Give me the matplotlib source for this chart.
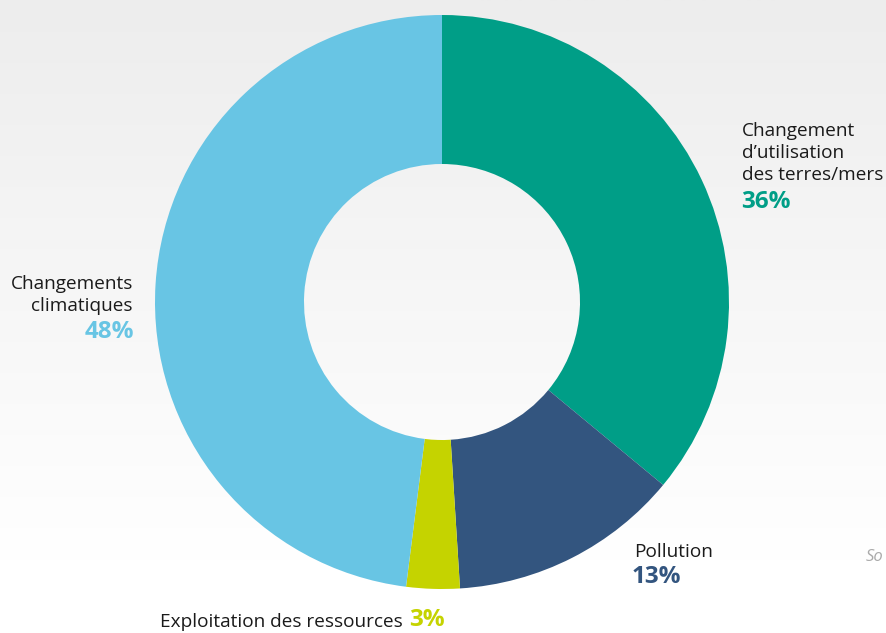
import numpy as np
import matplotlib
matplotlib.use('Agg')
import matplotlib.pyplot as plt

# donut data, clockwise from the top
categories = ["Changement\nd\u2019utilisation\ndes terres/mers", "Pollution",
              "Exploitation des ressources", "Changements\nclimatiques"]
shares = [36, 13, 3, 48]
colors = ["#009e87", "#33557f", "#c5d300", "#68c5e4"]

plt.rcParams['font.family'] = ['Open Sans', 'DejaVu Sans']

W, H = 886, 633
fig = plt.figure(figsize=(W / 100, H / 100), dpi=100)
ax = fig.add_axes([0, 0, 1, 1])

# soft grey to white background
grad = np.linspace(0, 1, 300).reshape(-1, 1)
grad = np.clip(grad * 633 / 560, 0, 1)
bg = 237 + (255 - 237) * grad
img = np.dstack([bg, bg, bg]) / 255
ax.imshow(img, extent=[0, W, 0, H], origin='upper', aspect='auto', zorder=0)

cx, cy = 442, H - 302
ax.pie(shares, colors=colors, startangle=90, counterclock=False,
       center=(cx, cy), radius=287, frame=True,
       wedgeprops=dict(width=149, edgecolor='none'))
ax.set_xlim(0, W)
ax.set_ylim(0, H)
ax.set_aspect('auto')
ax.axis('off')

fs = 13.7
pfs = 17.5
txt = '#1a1a1a'

# labels
ax.text(742, H - 122, categories[0], ha='left', va='top', fontsize=fs,
        color=txt, linespacing=1.27)
ax.text(741, H - 202, f"{shares[0]}%", ha='left', va='center', fontsize=pfs,
        fontweight='bold', color=colors[0])

ax.text(133, H - 275, categories[3], ha='right', va='top', fontsize=fs,
        color=txt, linespacing=1.27)
ax.text(134, H - 332, f"{shares[3]}%", ha='right', va='center', fontsize=pfs,
        fontweight='bold', color=colors[3])

ax.text(634, H - 552, categories[1], ha='left', va='center', fontsize=fs,
        color=txt)
ax.text(632, H - 577, f"{shares[1]}%", ha='left', va='center', fontsize=pfs,
        fontweight='bold', color=colors[1])

ax.text(403, H - 622, categories[2], ha='right', va='center', fontsize=fs,
        color=txt)
ax.text(409, H - 620, f"{shares[2]}%", ha='left', va='center', fontsize=pfs,
        fontweight='bold', color=colors[2])

ax.text(866, H - 557, "So", ha='left', va='center', fontsize=12,
        style='italic', color='#aaaaaa')

fig.savefig('out.png', dpi=100)
